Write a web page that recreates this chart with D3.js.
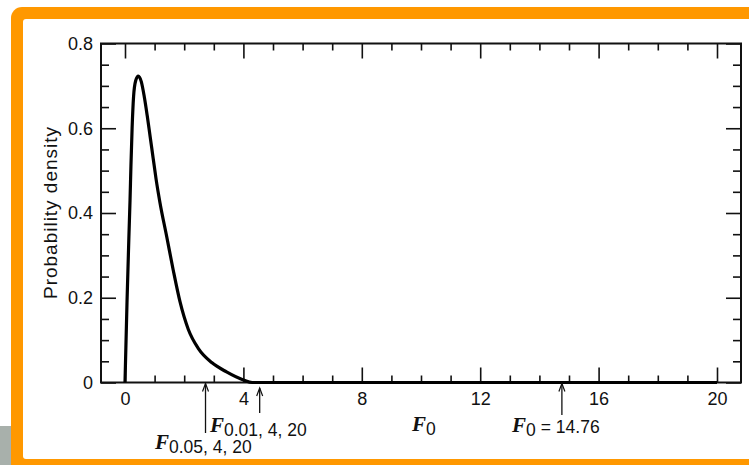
<!DOCTYPE html>
<html>
<head>
<meta charset="utf-8">
<script src="https://cdn.jsdelivr.net/npm/d3@7"></script>
<style>
  body { margin: 0; background: #fff; }
  svg { display: block; }
  .tick text { font-family: "Liberation Sans", Arial, sans-serif; font-size: 18px; fill: #111; }
  .tick line { stroke: #111; stroke-width: 1.6; }
  .axis-title { font-family: "Liberation Sans", Arial, sans-serif; font-size: 19px; fill: #111; }
  .ann { font-family: "Liberation Sans", Arial, sans-serif; font-size: 17.5px; fill: #111; }
  .ann .f { font-family: "Liberation Serif", "Times New Roman", serif; font-style: italic; font-weight: bold; font-size: 21px; }
</style>
</head>
<body>
<svg id="chart" width="749" height="465"></svg>
<script>
// density curve of F(4, 20)
const fValues = [0, 0.07, 0.13, 0.17, 0.2, 0.24, 0.29, 0.36, 0.45, 0.55, 0.65, 0.75, 0.85, 0.95, 1.05, 1.18, 1.41, 1.63, 1.86, 2.14, 2.48, 2.93, 3.43, 4.0, 4.3, 20];
const density = [0, 0.195, 0.34, 0.43, 0.51, 0.6, 0.675, 0.712, 0.723, 0.71, 0.675, 0.63, 0.58, 0.53, 0.48, 0.425, 0.344, 0.265, 0.19, 0.125, 0.08, 0.047, 0.025, 0.006, 0, 0];

const xTickLabels = [0, 4, 8, 12, 16, 20];
const yTickLabels = [0, 0.2, 0.4, 0.6, 0.8];

// marked values on the F axis
const markValues = [2.72, 4.55, 14.76];

const svg = d3.select('#chart');

// orange slide frame
svg.append('rect').attr('x', 0).attr('y', 426).attr('width', 12).attr('height', 40).attr('fill', '#a8b0ab');
svg.append('rect').attr('x', 11).attr('y', 7).attr('width', 800).attr('height', 520).attr('rx', 11).attr('fill', '#ff9800');
svg.append('rect').attr('x', 23).attr('y', 19).attr('width', 800).attr('height', 440).attr('rx', 3).attr('fill', '#fff');

const box = {left: 101, right: 741, top: 43.5, bottom: 382.5};

const x = d3.scaleLinear().domain([0, 20]).range([125, 717]);
const y = d3.scaleLinear().domain([0, 0.8]).range([box.bottom, box.top]);

const minorX = d3.range(0, 21).filter(d => d % 4 !== 0);
const minorY = d3.range(1, 16).map(d => d * 0.05).filter(d => Math.abs(d / 0.2 - Math.round(d / 0.2)) > 1e-6);

// bottom axis: ticks point up into the box
svg.append('g')
    .attr('transform', `translate(0,${box.bottom})`)
    .call(d3.axisBottom(x).tickValues(minorX).tickSize(-7).tickFormat(''))
    .call(g => g.select('.domain').remove());
svg.append('g')
    .attr('transform', `translate(0,${box.bottom})`)
    .call(d3.axisBottom(x).tickValues(xTickLabels).tickSize(-15).tickPadding(10).tickFormat(d3.format('d')))
    .call(g => g.select('.domain').remove());

// top axis: ticks point down
svg.append('g')
    .attr('transform', `translate(0,${box.top})`)
    .call(d3.axisTop(x).tickValues(minorX).tickSize(-7).tickFormat(''))
    .call(g => g.select('.domain').remove());
svg.append('g')
    .attr('transform', `translate(0,${box.top})`)
    .call(d3.axisTop(x).tickValues(xTickLabels).tickSize(-15).tickFormat(''))
    .call(g => g.select('.domain').remove());

// left axis
svg.append('g')
    .attr('transform', `translate(${box.left},0)`)
    .call(d3.axisLeft(y).tickValues(minorY).tickSize(-8).tickFormat(''))
    .call(g => g.select('.domain').remove());
svg.append('g')
    .attr('transform', `translate(${box.left},0)`)
    .call(d3.axisLeft(y).tickValues(yTickLabels).tickSize(-15).tickPadding(8).tickFormat(d => d === 0 ? '0' : d3.format('.1f')(d)))
    .call(g => g.select('.domain').remove());

// right axis
svg.append('g')
    .attr('transform', `translate(${box.right},0)`)
    .call(d3.axisRight(y).tickValues(minorY).tickSize(-8).tickFormat(''))
    .call(g => g.select('.domain').remove());
svg.append('g')
    .attr('transform', `translate(${box.right},0)`)
    .call(d3.axisRight(y).tickValues(yTickLabels).tickSize(-15).tickFormat(''))
    .call(g => g.select('.domain').remove());

svg.append('rect')
    .attr('x', box.left).attr('y', box.top)
    .attr('width', box.right - box.left).attr('height', box.bottom - box.top)
    .attr('fill', 'none').attr('stroke', '#111').attr('stroke-width', 2);

// the density curve
const pts = fValues.map((v, i) => [v, density[i]]);
svg.append('path')
    .datum(pts)
    .attr('fill', 'none')
    .attr('stroke', '#000')
    .attr('stroke-width', 3.2)
    .attr('stroke-linejoin', 'round')
    .attr('d', d3.line().x(d => x(d[0])).y(d => y(d[1])).curve(d3.curveMonotoneX));

svg.append('text')
    .attr('class', 'axis-title')
    .attr('transform', 'translate(57,213) rotate(-90)')
    .attr('text-anchor', 'middle')
    .attr('textLength', 172)
    .attr('lengthAdjust', 'spacing')
    .text('Probability density');

// arrows under the axis
const arrows = [
  {v: markValues[0], top: 383.5, bottom: 433},
  {v: markValues[1], top: 388, bottom: 413},
  {v: markValues[2], top: 383.5, bottom: 415}
];
arrows.forEach(a => {
  const ax = x(a.v);
  svg.append('line').attr('x1', ax).attr('x2', ax).attr('y1', a.top).attr('y2', a.bottom)
      .attr('stroke', '#111').attr('stroke-width', 1.3);
  svg.append('path')
      .attr('d', `M${ax - 3},${a.top + 8}L${ax},${a.top}L${ax + 3},${a.top + 8}`)
      .attr('fill', 'none').attr('stroke', '#111').attr('stroke-width', 1.2);
});

function fLabel(px, py, sub, rest) {
  const t = svg.append('text').attr('class', 'ann').attr('x', px).attr('y', py);
  t.append('tspan').attr('class', 'f').text('F');
  t.append('tspan').attr('dy', 4).text(sub);
  if (rest) t.append('tspan').attr('dy', -3).attr('dx', 5).text(rest);
}

fLabel(210, 432, '0.01, 4, 20');
fLabel(155, 449, '0.05, 4, 20');
fLabel(412, 431, '0');
fLabel(512, 432, '0', '= 14.76');
</script>
</body>
</html>
